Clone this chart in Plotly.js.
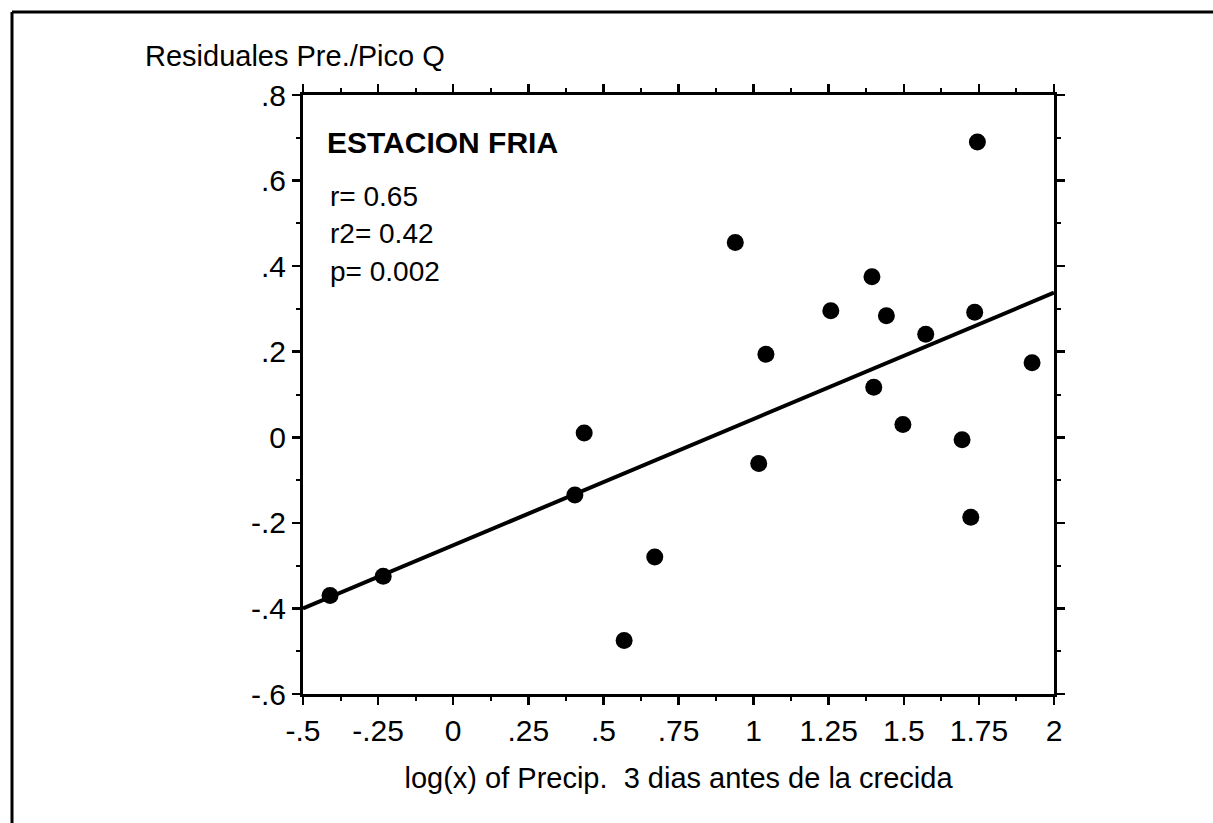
<!DOCTYPE html>
<html>
<head>
<meta charset="utf-8">
<script src="https://cdn.plot.ly/plotly-3.0.1.min.js"></script>
<style>
  html, body { margin: 0; padding: 0; background: #fff; }
  #chart { width: 1213px; height: 823px; }
</style>
</head>
<body>
<div id="chart"></div>
<script>
// ---- data ----
const precipLog = [-0.41, -0.233, 0.405, 0.436, 0.671, 0.569, 1.745, 0.939, 1.394, 1.257,
                   1.442, 1.736, 1.573, 1.041, 1.927, 1.400, 1.497, 1.694, 1.017, 1.723];
const residuals = [-0.370, -0.325, -0.135, 0.010, -0.280, -0.475, 0.690, 0.455, 0.375, 0.296,
                   0.284, 0.292, 0.241, 0.194, 0.174, 0.117, 0.030, -0.006, -0.061, -0.187];
// regression line end points (read at the plot edges)
const fitX = [-0.5, 2.0];
const fitY = [-0.400, 0.338];

const xTickVals = [-0.5, -0.25, 0, 0.25, 0.5, 0.75, 1, 1.25, 1.5, 1.75, 2];
const xTickText = ['-.5', '-.25', '0', '.25', '.5', '.75', '1', '1.25', '1.5', '1.75', '2'];
const yTickVals = [-0.6, -0.4, -0.2, 0, 0.2, 0.4, 0.6, 0.8];
const yTickText = ['-.6', '-.4', '-.2', '0', '.2', '.4', '.6', '.8'];

const titleText = 'Residuales Pre./Pico Q';
const xTitleText = 'log(x) of Precip.  3 dias antes de la crecida';
const panelLabel = 'ESTACION FRIA';
const statLines = ['r= 0.65', 'r2= 0.42', 'p= 0.002'];

// ---- layout helpers ----
const W = 1213, H = 823;
const M = { l: 303, r: 159, t: 95, b: 129 };
const PW = W - M.l - M.r, PH = H - M.t - M.b;
const px2x = p => (p - M.l) / PW;
const py2y = p => (H - M.b - p) / PH;

const FONT = '"Liberation Sans", Arial, Helvetica, sans-serif';

const traces = [
  {
    x: fitX, y: fitY, type: 'scatter', mode: 'lines',
    line: { color: '#000', width: 4 }, hoverinfo: 'skip', showlegend: false
  },
  {
    x: precipLog, y: residuals, type: 'scatter', mode: 'markers',
    marker: { color: '#000', size: 17 }, showlegend: false
  }
];

const axisCommon = {
  showgrid: false, zeroline: false, showline: true, linecolor: '#000', linewidth: 3,
  mirror: 'ticks', ticks: 'outside', ticklen: 8, tickwidth: 2.5, tickcolor: '#000',
  tickfont: { family: FONT, size: 30, color: '#000' }, fixedrange: true
};

const statAnnots = statLines.map((t, i) => ({
  xref: 'paper', yref: 'paper', x: px2x(328), y: py2y(196 + i * 37.5),
  xanchor: 'left', yanchor: 'middle', showarrow: false, text: t,
  font: { family: FONT, size: 28, color: '#000' }
}));

const layout = {
  width: W, height: H,
  margin: M,
  paper_bgcolor: '#fff', plot_bgcolor: '#fff',
  showlegend: false,
  title: {
    text: titleText, xref: 'container', yref: 'container',
    x: 145 / W, xanchor: 'left', y: 1 - 56 / H, yanchor: 'middle',
    font: { family: FONT, size: 29, color: '#000' }
  },
  xaxis: Object.assign({}, axisCommon, {
    range: [-0.5, 2], tickmode: 'array', tickvals: xTickVals, ticktext: xTickText,
    minor: { tickmode: 'linear', tick0: -0.5, dtick: 0.125, ticks: 'outside', ticklen: 4, tickwidth: 2, tickcolor: '#000', showgrid: false },
    title: { text: xTitleText, font: { family: FONT, size: 29, color: '#000' }, standoff: 22 }
  }),
  yaxis: Object.assign({}, axisCommon, {
    range: [-0.6, 0.8], tickmode: 'array', tickvals: yTickVals, ticktext: yTickText,
    minor: { tickmode: 'linear', tick0: -0.6, dtick: 0.1, ticks: 'outside', ticklen: 4, tickwidth: 2, tickcolor: '#000', showgrid: false }
  }),
  annotations: [
    {
      xref: 'paper', yref: 'paper', x: px2x(325), y: py2y(142),
      xanchor: 'left', yanchor: 'middle', showarrow: false, text: '<b>' + panelLabel + '</b>',
      font: { family: FONT, size: 30, color: '#000' }
    }
  ].concat(statAnnots),
  shapes: [
    { type: 'line', xref: 'paper', yref: 'paper', x0: px2x(12), x1: px2x(W + 5), y0: py2y(12), y1: py2y(12),
      line: { color: '#000', width: 3 } },
    { type: 'line', xref: 'paper', yref: 'paper', x0: px2x(12), x1: px2x(12), y0: py2y(12), y1: py2y(H + 5),
      line: { color: '#000', width: 3 } }
  ]
};

Plotly.newPlot('chart', traces, layout, { displayModeBar: false, staticPlot: true });
</script>
</body>
</html>
